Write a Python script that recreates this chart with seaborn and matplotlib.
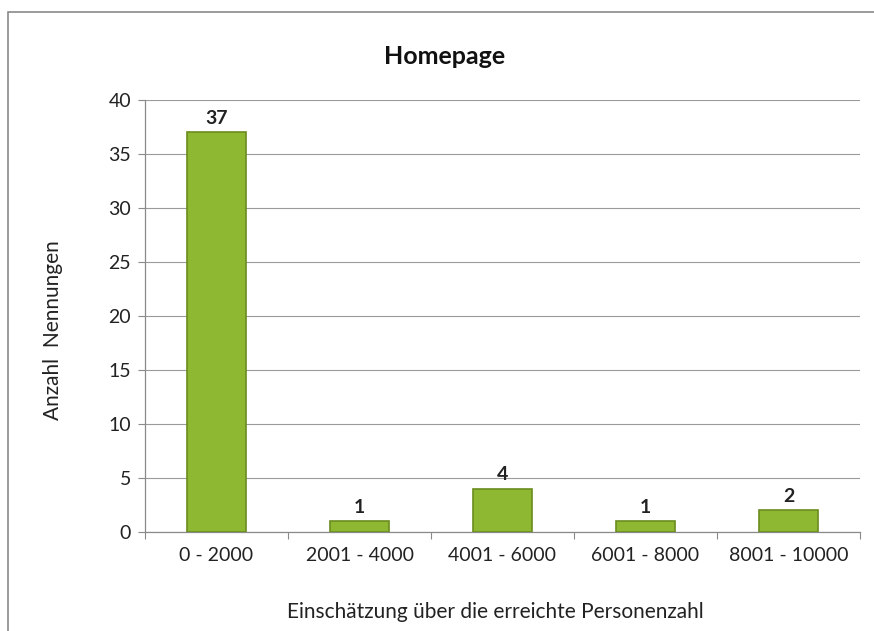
import numpy as np
import pandas as pd
import matplotlib.pyplot as plt
import matplotlib.patches as mpatches
import seaborn as sns

# Data
categories = ["0 - 2000", "2001 - 4000", "4001 - 6000", "6001 - 8000", "8001 - 10000"]
counts = [37, 1, 4, 1, 2]

df = pd.DataFrame({"Kategorie": categories, "Anzahl": counts})

sns.set_style("white")
plt.rcParams['font.family'] = ['Lato', 'DejaVu Sans']

fig = plt.figure(figsize=(8.74, 6.31), dpi=100)
ax = fig.add_axes([145/874, 1 - 532/631, (860-145)/874, (532-100)/631])

sns.barplot(x="Kategorie", y="Anzahl", data=df, color="#8fb832", saturation=1,
            width=0.41, edgecolor="#6b8c1e", linewidth=1.2, ax=ax, zorder=3)

# value labels
for i, v in enumerate(counts):
    ax.text(i, v + 0.5, str(v), ha='center', va='bottom',
            fontsize=14, fontweight='bold', color='#222222')

ax.set_ylim(0, 40)
ax.set_yticks(range(0, 41, 5))
ax.set_xlim(-0.5, 4.5)
ax.yaxis.grid(True, color='#9a9a9a', linewidth=0.8, zorder=0)
ax.set_axisbelow(True)

for s in ['top', 'right']:
    ax.spines[s].set_visible(False)
for s in ['left', 'bottom']:
    ax.spines[s].set_color('#8a8a8a')
    ax.spines[s].set_linewidth(0.9)

# x ticks at category boundaries
ax.set_xticks(np.arange(-0.5, 5, 1), minor=False)
ax.set_xticklabels([])
ax.set_xticks(range(5), minor=True)
ax.set_xticklabels(categories, minor=True)
ax.tick_params(axis='x', which='major', length=5, color='#8a8a8a', direction='out')
ax.tick_params(axis='x', which='minor', length=0, pad=11, labelsize=14, labelcolor='#222222')
ax.tick_params(axis='y', length=5, color='#8a8a8a', direction='out', labelsize=14,
               labelcolor='#222222', pad=5)
ax.yaxis.set_ticks_position('left')
ax.xaxis.set_ticks_position('bottom')

ax.set_xlabel("Einschätzung über die erreichte Personenzahl", fontsize=15,
              color='#222222')
ax.set_ylabel("Anzahl  Nennungen", fontsize=15, color='#222222')
ax.xaxis.set_label_coords((495 - 145) / (860 - 145), -(612 - 532) / (532 - 100))
ax.yaxis.set_label_coords(-(145 - 53) / (860 - 145), (532 - 330) / (532 - 100))
ax.xaxis.label.set_va('center')
ax.yaxis.label.set_va('center')

fig.text(445/874, 1 - 57/631, "Homepage", ha='center', va='center',
         fontsize=18, fontweight='bold', color='#111111')

# outer chart border
border = mpatches.Rectangle((8/874, -0.05), 1.0, 1 - 12/631 + 0.05,
                            transform=fig.transFigure, fill=False,
                            edgecolor='#8a8a8a', linewidth=1.2)
fig.patches.append(border)

fig.savefig("out.png", dpi=100)
